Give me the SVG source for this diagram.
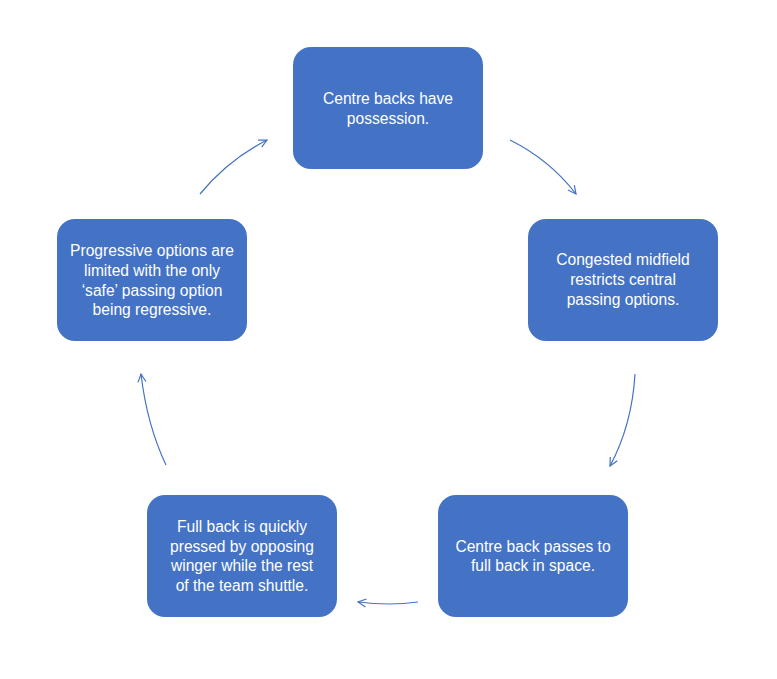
<svg xmlns="http://www.w3.org/2000/svg" width="777" height="679" viewBox="0 0 777 679">
<defs>
<style>
.box{fill:#4472C4;}
.t{fill:#fff;font-family:"Liberation Sans",Arial,sans-serif;font-size:15.6px;text-anchor:middle;}
.c{fill:none;stroke:#4472C4;stroke-width:1.2;marker-end:url(#ah);}
</style>
<marker id="ah" viewBox="0 0 10 10" refX="9" refY="5" markerWidth="10" markerHeight="10" markerUnits="userSpaceOnUse" orient="auto">
<path d="M1,1 L9,5 L1,9" fill="none" stroke="#4472C4" stroke-width="1.2"/>
</marker>
</defs>
<rect width="777" height="679" fill="#fff"/>
<g id="connectors">
<path class="c" d="M510,140 Q550,160 576,194"/>
<path class="c" d="M635,374 Q632,425 610,466"/>
<path class="c" d="M418,602 Q390,606 358,602"/>
<path class="c" d="M166,465 Q147,425 141,374"/>
<path class="c" d="M200,194 Q228,160 267,140"/>
</g>
<g id="n1">
<rect class="box" x="293" y="47" width="190" height="122" rx="18"/>
<text class="t" x="388" y="104">Centre backs have</text>
<text class="t" x="388" y="124">possession.</text>
</g>
<g id="n2">
<rect class="box" x="528" y="219" width="190" height="122" rx="18"/>
<text class="t" x="623" y="265">Congested midfield</text>
<text class="t" x="623" y="285">restricts central</text>
<text class="t" x="623" y="305">passing options.</text>
</g>
<g id="n3">
<rect class="box" x="438" y="495" width="190" height="122" rx="18"/>
<text class="t" x="533" y="552">Centre back passes to</text>
<text class="t" x="533" y="571">full back in space.</text>
</g>
<g id="n4">
<rect class="box" x="147" y="495" width="190" height="122" rx="18"/>
<text class="t" x="242" y="532">Full back is quickly</text>
<text class="t" x="242" y="552">pressed by opposing</text>
<text class="t" x="242" y="571">winger while the rest</text>
<text class="t" x="242" y="591">of the team shuttle.</text>
</g>
<g id="n5">
<rect class="box" x="57" y="219" width="190" height="122" rx="18"/>
<text class="t" x="152" y="256">Progressive options are</text>
<text class="t" x="152" y="276">limited with the only</text>
<text class="t" x="152" y="296">‘safe’ passing option</text>
<text class="t" x="152" y="315">being regressive.</text>
</g>
</svg>
